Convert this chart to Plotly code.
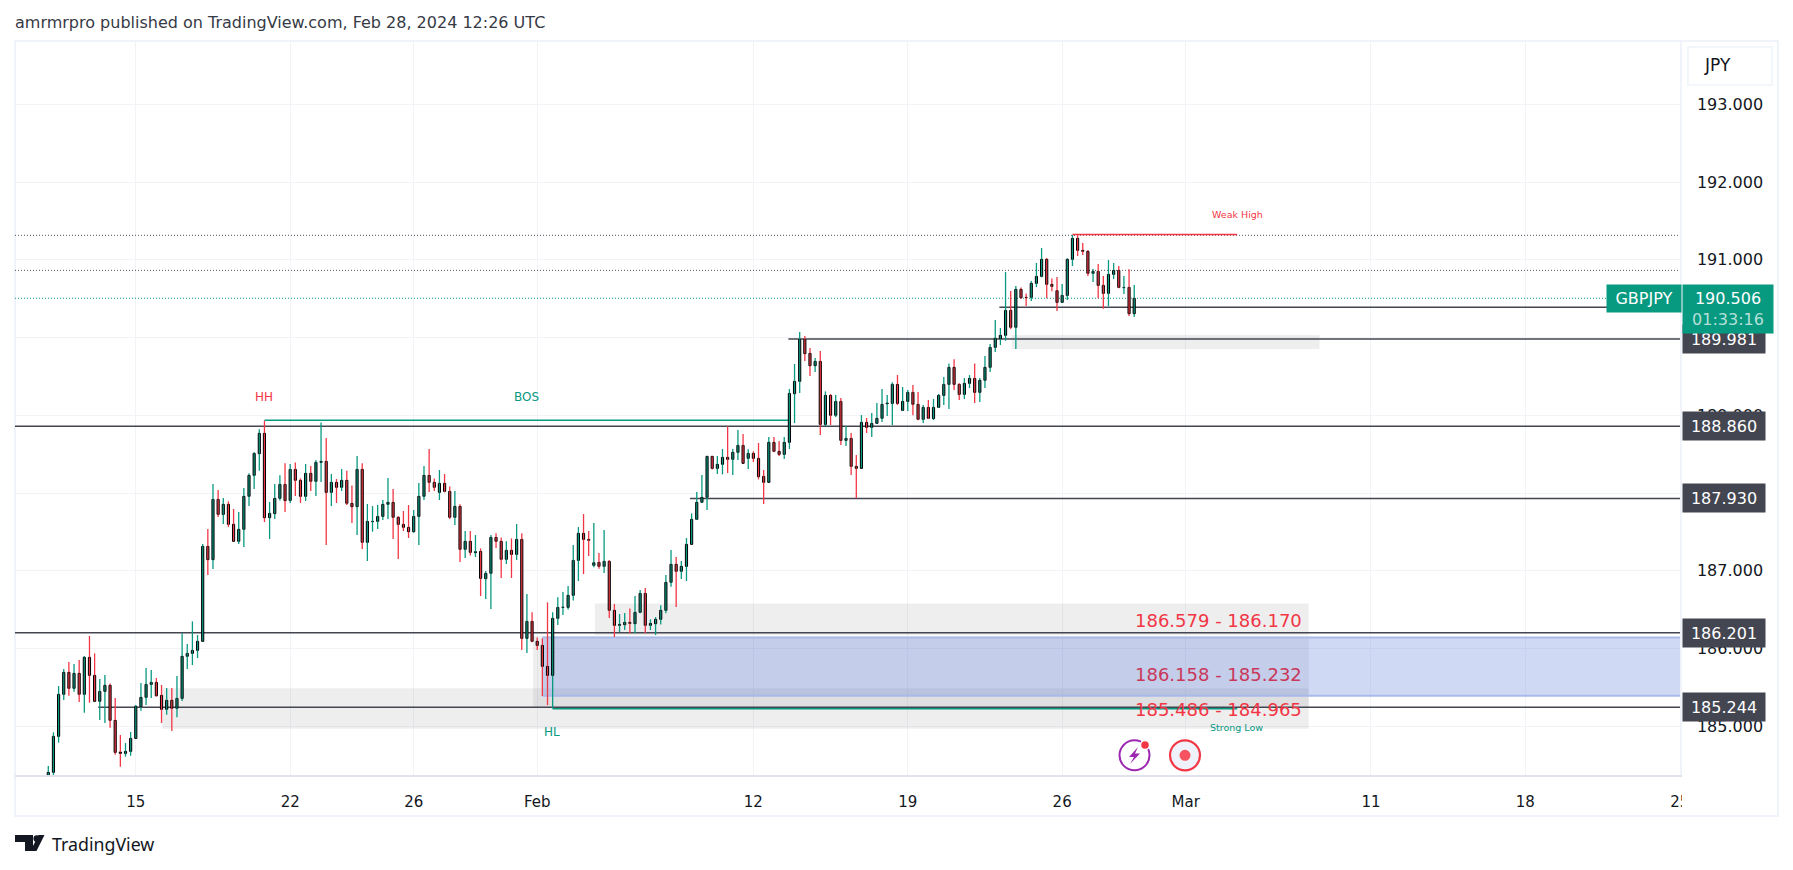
import plotly.graph_objects as go

# ---------------------------------------------------------------------------------------------------------------- Data
OPENS = [
    184.300, 184.405, 184.868, 185.409, 185.692, 185.486, 185.679, 185.409, 185.885, 185.653,
    185.319, 185.447, 185.525, 185.074, 184.667, 184.649, 184.675, 184.842, 185.250, 185.370,
    185.537, 185.563, 185.396, 185.216, 185.332, 185.229, 185.357, 185.898, 185.936, 185.975,
    186.091, 187.313, 187.142, 187.918, 187.725, 187.854, 187.597, 187.378, 187.532, 187.957,
    188.227, 188.506, 188.768, 187.682, 187.734, 187.931, 188.111, 187.905, 188.304, 188.163,
    187.957, 188.253, 188.150, 188.394, 188.407, 188.008, 188.137, 188.073, 188.163, 187.867,
    187.824, 188.304, 187.365, 187.631, 187.635, 187.699, 187.854, 187.880, 187.687, 187.596,
    187.558, 187.502, 187.699, 187.957, 188.227, 188.137, 188.008, 188.124, 188.021, 187.687,
    187.828, 187.275, 187.378, 187.232, 187.249, 186.897, 186.966, 187.429, 187.378, 187.146,
    187.262, 187.210, 187.403, 186.129, 186.348, 186.091, 186.039, 185.769, 185.653, 186.387,
    186.528, 186.528, 186.683, 187.133, 187.481, 187.403, 187.069, 187.107, 187.056, 187.120,
    186.490, 186.297, 186.305, 186.335, 186.318, 186.464, 186.708, 186.297, 186.318, 186.374,
    186.490, 186.850, 187.082, 186.992, 187.056, 187.339, 187.661, 187.880, 187.944, 188.472,
    188.317, 188.369, 188.459, 188.433, 188.523, 188.613, 188.446, 188.510, 188.446, 188.214,
    188.137, 188.652, 188.536, 188.497, 188.652, 189.278, 189.437, 189.977, 189.797, 189.638,
    189.694, 188.883, 189.256, 189.000, 189.179, 188.677, 188.703, 188.343, 188.317, 188.909,
    188.845, 188.896, 188.961, 189.149, 189.153, 189.398, 189.063, 189.179, 189.295, 189.141,
    188.948, 189.102, 188.957, 189.102, 189.256, 189.398, 189.617, 189.398, 189.269, 189.411,
    189.475, 189.295, 189.450, 189.617, 189.874, 189.986, 190.029, 190.350, 190.132, 190.621,
    190.518, 190.518, 190.698, 190.788, 191.007, 190.685, 190.604, 190.453, 190.543, 191.007,
    191.277, 191.123, 191.110, 190.827, 190.852, 190.672, 190.569, 190.814, 190.865, 190.642,
    190.646, 190.307,
]
CLOSES = [
    184.405, 184.868, 185.409, 185.692, 185.486, 185.679, 185.409, 185.885, 185.653, 185.319,
    185.447, 185.525, 185.074, 184.662, 184.649, 184.675, 184.842, 185.254, 185.370, 185.537,
    185.563, 185.391, 185.216, 185.332, 185.229, 185.357, 185.898, 185.936, 185.975, 186.091,
    187.313, 187.142, 187.918, 187.725, 187.854, 187.597, 187.378, 187.532, 187.957, 188.227,
    188.510, 188.768, 187.682, 187.738, 187.931, 188.111, 187.901, 188.304, 188.163, 187.957,
    188.253, 188.150, 188.394, 188.407, 188.008, 188.137, 188.073, 188.163, 187.867, 187.824,
    188.304, 187.365, 187.635, 187.635, 187.699, 187.854, 187.880, 187.687, 187.596, 187.558,
    187.502, 187.699, 187.957, 188.227, 188.137, 188.073, 188.124, 188.021, 187.687, 187.828,
    187.275, 187.378, 187.236, 187.245, 186.901, 186.966, 187.429, 187.378, 187.146, 187.262,
    187.210, 187.403, 186.129, 186.348, 186.091, 186.039, 185.769, 185.653, 186.387, 186.528,
    186.533, 186.683, 187.133, 187.481, 187.403, 187.391, 187.103, 187.056, 187.120, 186.490,
    186.297, 186.309, 186.335, 186.322, 186.464, 186.708, 186.297, 186.322, 186.374, 186.490,
    186.850, 187.082, 186.992, 187.056, 187.339, 187.661, 187.880, 187.944, 188.472, 188.317,
    188.369, 188.459, 188.433, 188.523, 188.613, 188.382, 188.510, 188.446, 188.210, 188.137,
    188.652, 188.536, 188.497, 188.652, 189.282, 189.437, 189.977, 189.793, 189.638, 189.694,
    188.883, 189.256, 189.000, 189.179, 188.677, 188.703, 188.343, 188.317, 188.909, 188.845,
    188.896, 188.961, 189.141, 189.158, 189.398, 189.153, 189.179, 189.295, 189.141, 188.948,
    189.102, 188.961, 189.102, 189.256, 189.398, 189.617, 189.398, 189.269, 189.411, 189.475,
    189.295, 189.450, 189.617, 189.874, 189.990, 190.029, 190.350, 190.132, 190.621, 190.513,
    190.513, 190.698, 190.788, 191.007, 190.685, 190.659, 190.453, 190.543, 191.007, 191.277,
    191.123, 191.110, 190.827, 190.852, 190.672, 190.569, 190.814, 190.865, 190.646, 190.646,
    190.307, 190.506,
]
HIGHS = [
    184.486, 184.920, 185.516, 185.735, 185.825, 185.799, 185.851, 185.902, 186.160, 185.936,
    185.606, 185.658, 185.550, 185.361, 184.885, 184.782, 184.924, 185.271, 185.555, 185.748,
    185.722, 185.619, 185.529, 185.490, 185.490, 185.645, 186.194, 186.056, 186.348, 186.172,
    187.344, 187.537, 188.116, 188.038, 187.936, 187.893, 187.794, 187.755, 188.064, 188.253,
    188.523, 188.819, 188.931, 187.884, 188.116, 188.227, 188.382, 188.373, 188.394, 188.188,
    188.373, 188.347, 188.424, 188.909, 188.708, 188.244, 188.180, 188.309, 188.287, 188.098,
    188.476, 188.382, 187.858, 187.832, 187.845, 187.910, 188.193, 188.051, 187.704, 187.768,
    187.845, 187.781, 188.128, 188.347, 188.566, 188.188, 188.296, 188.244, 188.085, 188.025,
    187.854, 187.511, 187.511, 187.459, 187.287, 186.996, 187.459, 187.481, 187.429, 187.378,
    187.416, 187.601, 187.481, 186.700, 186.464, 186.142, 186.129, 186.593, 186.464, 186.657,
    186.726, 186.803, 187.330, 187.562, 187.729, 187.511, 187.614, 187.227, 187.524, 187.137,
    186.571, 186.442, 186.455, 186.515, 186.674, 186.751, 186.777, 186.374, 186.404, 186.554,
    186.944, 187.266, 187.176, 187.124, 187.421, 187.738, 188.013, 188.231, 188.476, 188.476,
    188.476, 188.566, 188.858, 188.566, 188.810, 188.759, 188.562, 188.536, 188.643, 188.296,
    188.720, 188.720, 188.669, 188.720, 189.338, 189.660, 190.072, 190.020, 189.866, 189.737,
    189.827, 189.308, 189.274, 189.261, 189.222, 188.862, 188.772, 188.489, 189.003, 188.965,
    189.029, 189.158, 189.338, 189.261, 189.424, 189.518, 189.364, 189.325, 189.389, 189.299,
    189.132, 189.196, 189.209, 189.274, 189.492, 189.668, 189.720, 189.411, 189.480, 189.518,
    189.668, 189.480, 189.763, 189.917, 190.226, 190.123, 190.844, 190.599, 190.664, 190.646,
    190.569, 190.728, 190.960, 191.153, 191.024, 190.762, 190.779, 190.689, 191.020, 191.320,
    191.324, 191.217, 191.127, 190.882, 190.947, 190.792, 190.998, 190.960, 190.921, 190.792,
    190.878, 190.676,
]
LOWS = [
    184.250, 184.371, 184.787, 185.336, 185.392, 185.443, 185.310, 185.173, 185.301, 185.319,
    185.078, 185.040, 184.980, 184.632, 184.478, 184.607, 184.619, 184.842, 185.198, 185.271,
    185.361, 185.379, 185.040, 185.147, 184.937, 185.113, 185.323, 185.735, 185.786, 185.876,
    186.091, 186.945, 187.022, 187.691, 187.601, 187.562, 187.378, 187.344, 187.305, 187.833,
    188.051, 188.287, 187.626, 187.408, 187.665, 187.905, 187.755, 187.871, 187.961, 187.871,
    187.897, 188.025, 187.961, 188.141, 187.330, 187.832, 187.871, 188.025, 187.845, 187.614,
    187.459, 187.279, 187.125, 187.502, 187.536, 187.652, 187.665, 187.408, 187.150, 187.511,
    187.421, 187.489, 187.330, 187.910, 188.013, 188.025, 187.910, 188.008, 187.665, 187.588,
    187.112, 187.163, 187.197, 187.176, 186.674, 186.635, 186.507, 187.292, 186.906, 187.086,
    186.906, 187.137, 185.979, 185.940, 186.078, 185.979, 185.387, 185.271, 185.228, 186.301,
    186.430, 186.502, 186.618, 186.867, 186.957, 187.189, 187.043, 187.026, 186.970, 186.391,
    186.146, 186.211, 186.236, 186.194, 186.194, 186.451, 186.194, 186.236, 186.172, 186.309,
    186.451, 186.794, 186.532, 186.893, 186.867, 187.339, 187.652, 187.871, 187.781, 188.304,
    188.244, 188.240, 188.257, 188.231, 188.424, 188.382, 188.309, 188.399, 188.176, 187.858,
    188.137, 188.523, 188.476, 188.437, 188.566, 188.900, 189.286, 189.698, 189.505, 189.557,
    188.746, 188.862, 188.875, 188.978, 188.617, 188.604, 188.231, 187.931, 188.317, 188.772,
    188.720, 188.887, 188.913, 188.990, 188.875, 189.132, 189.055, 189.055, 189.000, 188.935,
    188.900, 188.952, 188.939, 189.093, 189.132, 189.081, 189.325, 189.196, 189.209, 189.351,
    189.158, 189.171, 189.351, 189.557, 189.814, 189.904, 189.960, 190.110, 189.853, 190.496,
    190.406, 190.471, 190.651, 190.775, 190.505, 190.595, 190.342, 190.445, 190.483, 190.921,
    191.050, 191.063, 190.792, 190.715, 190.505, 190.372, 190.406, 190.754, 190.634, 190.561,
    190.277, 190.265,
]
BAR_INDEX = list(range(len(OPENS)))

X_TICK_INDEX = [17, 47, 71, 95, 137, 167, 197, 221, 257, 287, 317]
X_TICK_TEXT = ["15", "22", "26", "Feb", "12", "19", "26", "Mar", "11", "18", "25"]

# level, first bar of the line
SOLID_LEVELS = [190.389, 189.981, 188.860, 187.930, 186.201, 185.244]
SOLID_STARTS = [184.8, 143.8, -6.47, 124.7, -6.47, 9.7]
DOTTED_LEVELS = [191.316, 190.865, 190.506]
DOTTED_COLORS = ["#50535e", "#50535e", "#089981"]
PRICE_TAGS = [189.981, 188.860, 187.930, 186.201, 185.244]
LAST_PRICE = "190.506"
COUNTDOWN = "01:33:16"

# left bar, right bar, top, bottom
ZONE_LEFT = [106.2, 22.15, 94.2, 187.2]
ZONE_RIGHT = [244.9, 244.9, 244.9, 247.0]
ZONE_TOP = [186.579, 185.486, 186.158, 190.033]
ZONE_BOTTOM = [186.170, 184.965, 185.232, 189.853]
ZONE_TEXT = ["186.579 - 186.170", "186.158 - 185.232", "185.486 - 184.965"]
ZONE_TEXT_Y = [186.36, 185.67, 185.21]
ZONE_TEXT_COLOR = ["#f23645", "#c9385a", "#f23645"]

# ------------------------------------------------------------------------------------------------------------- Styling
UP = "#089981"
DOWN = "#f23645"
DARK = "#434651"
GRID = "#f2f3f6"
FRAME = "#f0f3fa"
TEXT = "#131722"
FONT = "DejaVu Sans"
PLOT_L, PLOT_R, PLOT_T, PLOT_B = 15, 1680, 41, 775


def px_x(p):
    return (p - PLOT_L) / (PLOT_R - PLOT_L)


def px_y(p):
    return (PLOT_B - p) / (PLOT_B - PLOT_T)


def wick_trace(up):
    """One line trace per colour; the segments stop at the body so the body outline stays clean."""
    xs, ys = [], []
    for i, o, h, l, c in zip(BAR_INDEX, OPENS, HIGHS, LOWS, CLOSES):
        if (c >= o) != up:
            continue
        xs += [i, i, None, i, i, None]
        ys += [h, max(o, c), None, min(o, c), l, None]
    return go.Scatter(x=xs, y=ys, mode="lines", line=dict(color=UP if up else DOWN, width=1.3), hoverinfo="skip")


def hline(y, x0, x1, color, width, dash="solid"):
    return dict(type="line", x0=x0, x1=x1, y0=y, y1=y, layer="between", line=dict(color=color, width=width, dash=dash))


def px_rect(x0, y0, x1, y1, fill, line=None, width=0, layer="above"):
    return dict(
        type="rect", xref="paper", yref="paper", layer=layer,
        x0=px_x(x0), x1=px_x(x1), y0=px_y(y0), y1=px_y(y1),
        fillcolor=fill, line=dict(color=line or fill, width=width),
    )


def px_circle(cx, cy, r, fill, line=None, width=0):
    return px_rect(cx - r, cy - r, cx + r, cy + r, fill, line, width) | {"type": "circle"}


def px_path(points, fill):
    """Closed polygon given in page pixels, placed through the paper coordinates."""
    path = "M " + " L ".join(f"{px_x(x)} {px_y(y)}" for x, y in points) + " Z"
    return dict(type="path", xref="paper", yref="paper", path=path, fillcolor=fill, line=dict(width=0), layer="above")


def px_text(text, x, y, size, color, xanchor="center", family=FONT):
    return dict(
        text=text, xref="paper", yref="paper", x=px_x(x), y=px_y(y), xanchor=xanchor, yanchor="middle",
        showarrow=False, font=dict(family=family, size=size, color=color),
    )


def box_text(text, x, y, w, h, fill, size=16, color="white"):
    """Filled tag with centred text, the way the price scale shows them."""
    return dict(
        text=text, xref="paper", yref="paper", x=px_x(x), y=px_y(y), xanchor="left", yanchor="middle", align="center",
        valign="middle", width=w, height=h, bgcolor=fill, borderpad=0, showarrow=False,
        font=dict(family=FONT, size=size, color=color),
    )


# ---------------------------------------------------------------------------------------------------------------- Plot
body_base = [min(o, c) for o, c in zip(OPENS, CLOSES)]
body_size = [abs(c - o) for o, c in zip(OPENS, CLOSES)]
body_color = [UP if c >= o else DOWN for o, c in zip(OPENS, CLOSES)]

fig = go.Figure()
fig.add_bar(
    x=BAR_INDEX, y=body_size, base=body_base, width=0.42,
    marker=dict(color=body_color, line=dict(color="black", width=1)), hoverinfo="skip",
)
fig.add_trace(wick_trace(True))
fig.add_trace(wick_trace(False))

shapes = []
# gray and blue zones
for left, right, top, bottom in zip(ZONE_LEFT, ZONE_RIGHT, ZONE_TOP, ZONE_BOTTOM):
    shapes.append(dict(
        type="rect", x0=left, x1=right, y0=bottom, y1=top, layer="between",
        fillcolor="rgba(120,123,134,0.13)", line=dict(width=0),
    ))
shapes.append(dict(
    type="rect", x0=96, x1=317.05, y0=185.39, y1=186.14, layer="between",
    fillcolor="rgba(100,130,220,0.30)", line=dict(width=0),
))
shapes.append(hline(186.14, 96, 317.05, "#a9b9e9", 2))
shapes.append(hline(185.39, 96, 317.05, "#a9b9e9", 2))
# horizontal levels
for level, start in zip(SOLID_LEVELS, SOLID_STARTS):
    shapes.append(hline(level, start, 317.05, DARK, 1.5))
for level, color in zip(DOTTED_LEVELS, DOTTED_COLORS):
    shapes.append(hline(level, -6.47, 317.05, color, 1, "1px,2px"))
# structure lines
shapes.append(hline(188.935, 42, 144, UP, 1.5))
shapes.append(hline(185.224, 98, 231, UP, 1.5))
shapes.append(hline(191.328, 199, 231, DOWN, 1.5))

# page frame, price scale button and the clipped last tick
shapes.append(px_rect(15, 41, 1778, 816, "rgba(0,0,0,0)", FRAME, 2, layer="below"))
shapes.append(px_rect(1688, 47, 1772, 85, "white", FRAME, 1.5))
shapes.append(px_rect(1682, 785, 1700, 810, "white"))

# replay and alert icons
shapes.append(px_circle(1134.5, 755.3, 15, "rgba(0,0,0,0)", "#9c27b0", 2))
shapes.append(px_path(
    [(1138, 747), (1129, 757), (1134, 757), (1130, 764), (1140, 753.5), (1135, 753.5)], "#9c27b0",
))
shapes.append(px_circle(1145, 745, 4.5, "#f23645", "white", 1.5))
shapes.append(px_circle(1185, 755.3, 15, "#eff2fa", "#f23645", 2.2))
shapes.append(px_circle(1185, 755.3, 5.5, "#f7525f"))

# TradingView logo
shapes.append(px_path([(15, 835), (33, 835), (33, 851), (25, 851), (25, 842), (15, 842)], TEXT))
shapes.append(px_circle(36.8, 838.6, 3.4, TEXT))
shapes.append(px_path([(38.5, 835), (44.5, 835), (36.5, 851), (30.5, 851)], TEXT))

annotations = [
    px_text("amrmrpro published on TradingView.com, Feb 28, 2024 12:26 UTC", 13, 23, 16, "#363a45", "left"),
    px_text("TradingView", 50, 844, 17.8, TEXT, "left", family="Noto Sans"),
    px_text("JPY", 1702, 65.5, 17, TEXT, "left"),
    px_text("HH", 264, 397, 12, DOWN),
    px_text("BOS", 526, 397, 12, UP),
    px_text("HL", 552, 732, 12, UP),
    px_text("Weak High", 1237, 215, 9.5, DOWN),
    px_text("Strong Low", 1236, 727, 9.5, UP),
]
for text, y, color in zip(ZONE_TEXT, ZONE_TEXT_Y, ZONE_TEXT_COLOR):
    annotations.append(dict(
        text=text, x=px_x(1304), xref="paper", y=y, yref="y", xanchor="right", yanchor="middle",
        showarrow=False, font=dict(family=FONT, size=18, color=color),
    ))
for tag in PRICE_TAGS:
    annotations.append(dict(
        text=f"{tag:.3f}", xref="paper", x=px_x(1682), y=tag, yref="y", xanchor="left", yanchor="middle",
        width=82, height=28, bgcolor=DARK, borderpad=0, showarrow=False, align="center", valign="middle",
        font=dict(family=FONT, size=16, color="white"),
    ))
annotations += [
    box_text("GBPJPY", 1606, 298.5, 74, 27, UP),
    box_text(f"{LAST_PRICE}<br><span style='color:#b5e0d8'>{COUNTDOWN}</span>", 1682, 309, 90, 48, UP),
]

fig.update_layout(
    width=1793,
    height=870,
    margin=dict(l=PLOT_L, r=1793 - PLOT_R, t=PLOT_T, b=870 - PLOT_B),
    paper_bgcolor="white",
    plot_bgcolor="white",
    showlegend=False,
    barmode="overlay",
    hovermode=False,
    font=dict(family=FONT, size=16, color=TEXT),
    shapes=shapes,
    annotations=annotations,
    xaxis=dict(
        range=[-6.47, 317.05], tickvals=X_TICK_INDEX, ticktext=X_TICK_TEXT, showgrid=True, gridcolor=GRID,
        gridwidth=1, zeroline=False, showline=True, linecolor="#e0e3eb", linewidth=1.5,
        ticks="outside", ticklen=12, tickcolor="rgba(0,0,0,0)", tickfont=dict(size=15),
    ),
    yaxis=dict(
        range=[184.371, 193.817], side="right", dtick=1, tickformat=".3f", showgrid=True, gridcolor=GRID,
        gridwidth=1, zeroline=False, showline=True, linecolor=FRAME, linewidth=1.5,
        ticks="outside", ticklen=12, tickcolor="rgba(0,0,0,0)", tickfont=dict(size=16),
    ),
)

fig.write_html("out.html", config=dict(displayModeBar=False), post_script="document.body.style.margin = '0';")
